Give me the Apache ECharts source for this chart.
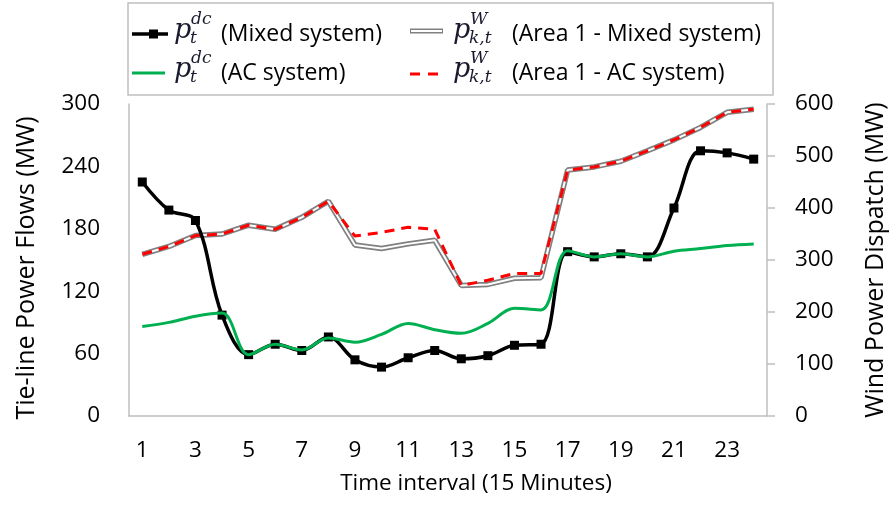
<!DOCTYPE html>
<html>
<head>
<meta charset="utf-8">
<script src="https://cdn.jsdelivr.net/npm/echarts@6/dist/echarts.min.js"></script>
<style>
  html, body { margin: 0; padding: 0; background: #fff; }
  #chart { width: 896px; height: 508px; }
</style>
</head>
<body>
<div id="chart"></div>
<script>
// Time intervals (15-minute steps)
const intervals = ['1','2','3','4','5','6','7','8','9','10','11','12',
                   '13','14','15','16','17','18','19','20','21','22','23','24'];

// Tie-line power flow p_t^dc (MW), left axis
const tieMixed = [225, 198, 188, 97, 59, 69, 63, 76, 54, 47, 56, 63,
                  55, 58, 68, 69, 158, 153, 156, 153, 200, 255, 253, 247];
const tieAC    = [86, 90, 96, 99, 59, 69, 63.5, 75, 71, 78.5, 89, 83,
                  79.5, 89, 103.5, 102, 159, 153, 156, 153, 158.5, 161, 164, 165.5];

// Wind power dispatch p_{k,t}^W of Area 1 (MW), right axis
const windMixed = [311, 326, 347, 350, 367, 359, 382, 413, 329, 322, 331, 338,
                   251, 253, 265, 266, 473, 479, 490, 510, 531, 555, 584, 590];
const windAC    = [311, 326, 347, 350, 367, 359, 382, 413, 346, 353, 363, 359,
                   251, 261, 274, 274, 473, 479, 490, 510, 531, 555, 584, 590];

// Axis ranges
const leftMax = 300, leftStep = 60;
const rightMax = 600, rightStep = 100;

const uiFont = 'Open Sans';
const mathFont = 'DejaVu Serif';
const axisGray = '#bfbfbf';

// Legend: drawn as graphic elements so the math symbols can be typeset
function mathSymbol(x, y, sup, sub) {
  return [
    { type: 'text', x: x, y: y, style: { text: 'p', font: 'italic 27px "' + mathFont + '"', fill: '#1a1a2e', verticalAlign: 'middle' } },
    { type: 'text', x: x + 17, y: y - 11, style: { text: sup, font: 'italic 17px "' + mathFont + '"', fill: '#1a1a2e', verticalAlign: 'middle' } },
    { type: 'text', x: x + 16, y: y + 8, style: { text: sub, font: 'italic 17px "' + mathFont + '"', fill: '#1a1a2e', verticalAlign: 'middle' } }
  ];
}
function label(x, y, t) {
  return { type: 'text', x: x, y: y, style: { text: t, font: '23px "' + uiFont + '"', fill: '#000', verticalAlign: 'middle' } };
}

const row1 = 34, row2 = 73;
const legendElements = [
  { type: 'rect', shape: { x: 128, y: 3, width: 645, height: 92 }, style: { fill: 'none', stroke: axisGray, lineWidth: 1.5 } },
  // black line with square marker
  { type: 'line', shape: { x1: 132, y1: row1, x2: 168, y2: row1 }, style: { stroke: '#000', lineWidth: 3.5 } },
  { type: 'rect', shape: { x: 149, y: row1 - 4.5, width: 9, height: 9 }, style: { fill: '#000' } },
  ...mathSymbol(174, row1 - 3, 'dc', 't'),
  label(221, row1, '(Mixed system)'),
  // green line
  { type: 'line', shape: { x1: 132, y1: row2, x2: 165, y2: row2 }, style: { stroke: '#00b050', lineWidth: 3 } },
  ...mathSymbol(174, row2 - 3, 'dc', 't'),
  label(221, row2, '(AC system)'),
  // gray double line
  { type: 'line', shape: { x1: 410, y1: row1 - 3, x2: 443, y2: row1 - 3 }, style: { stroke: '#808080', lineWidth: 5 } },
  { type: 'line', shape: { x1: 411, y1: row1 - 3, x2: 442, y2: row1 - 3 }, style: { stroke: '#fff', lineWidth: 2 } },
  ...mathSymbol(453, row1 - 3, 'W', 'k,t'),
  label(512, row1, '(Area 1 - Mixed system)'),
  // red dashed line
  { type: 'line', shape: { x1: 410, y1: row2 + 1, x2: 443, y2: row2 + 1 }, style: { stroke: '#ff0000', lineWidth: 3, lineDash: [10, 8] } },
  ...mathSymbol(453, row2 - 3, 'W', 'k,t'),
  label(512, row2, '(Area 1 - AC system)')
];

const chart = echarts.init(document.getElementById('chart'), null, { renderer: 'canvas' });

const axisLabelStyle = { fontFamily: uiFont, fontSize: 22.5, color: '#000' };
const nameStyle = { fontFamily: uiFont, fontSize: 25, color: '#000' };

chart.setOption({
  animation: false,
  backgroundColor: '#fff',
  grid: { left: 129, right: 123, top: 104, bottom: 92 },
  xAxis: {
    type: 'category',
    data: intervals,
    boundaryGap: true,
    axisLine: { lineStyle: { color: axisGray, width: 1.5 } },
    axisTick: { show: false },
    axisLabel: Object.assign({ interval: 1, margin: 23 }, axisLabelStyle),
    name: 'Time interval (15 Minutes)',
    nameLocation: 'middle',
    nameGap: 56,
    nameTextStyle: Object.assign({}, nameStyle, { fontSize: 22.5, padding: [0, 0, 0, 56] })
  },
  yAxis: [
    {
      type: 'value', min: 0, max: leftMax, interval: leftStep,
      axisLine: { show: true, lineStyle: { color: axisGray, width: 1.5 } },
      axisTick: { show: false },
      splitLine: { show: false },
      axisLabel: Object.assign({ margin: 29 }, axisLabelStyle),
      name: 'Tie-line Power Flows (MW)',
      nameLocation: 'middle',
      nameGap: 90,
      nameTextStyle: Object.assign({}, nameStyle, { padding: [0, 16, 0, 0] })
    },
    {
      type: 'value', min: 0, max: rightMax, interval: rightStep,
      position: 'right',
      axisLine: { show: true, lineStyle: { color: axisGray, width: 1.5 } },
      axisTick: { show: true, inside: false, length: 8, lineStyle: { color: axisGray, width: 1.5 } },
      splitLine: { show: false },
      axisLabel: Object.assign({ margin: 28 }, axisLabelStyle),
      name: 'Wind Power Dispatch (MW)',
      nameLocation: 'middle',
      nameGap: 96,
      nameTextStyle: nameStyle
    }
  ],
  series: [
    { // gray double line: outer stroke
      type: 'line', yAxisIndex: 1, data: windMixed, z: 2,
      symbol: 'none', lineStyle: { color: '#808080', width: 5.5 }
    },
    { // gray double line: white core
      type: 'line', yAxisIndex: 1, data: windMixed, z: 3,
      symbol: 'none', lineStyle: { color: '#ffffff', width: 2 }
    },
    {
      type: 'line', yAxisIndex: 1, data: windAC, z: 4,
      symbol: 'none', lineStyle: { color: '#ff0000', width: 3, type: [10, 7] }
    },
    {
      type: 'line', yAxisIndex: 0, data: tieMixed, z: 5,
      smooth: 0.35, symbol: 'rect', symbolSize: 9,
      itemStyle: { color: '#000' },
      lineStyle: { color: '#000', width: 3.5 }
    },
    {
      type: 'line', yAxisIndex: 0, data: tieAC, z: 6,
      smooth: 0.35, symbol: 'none',
      lineStyle: { color: '#00b050', width: 3 }
    }
  ],
  graphic: legendElements
});
</script>
</body>
</html>
